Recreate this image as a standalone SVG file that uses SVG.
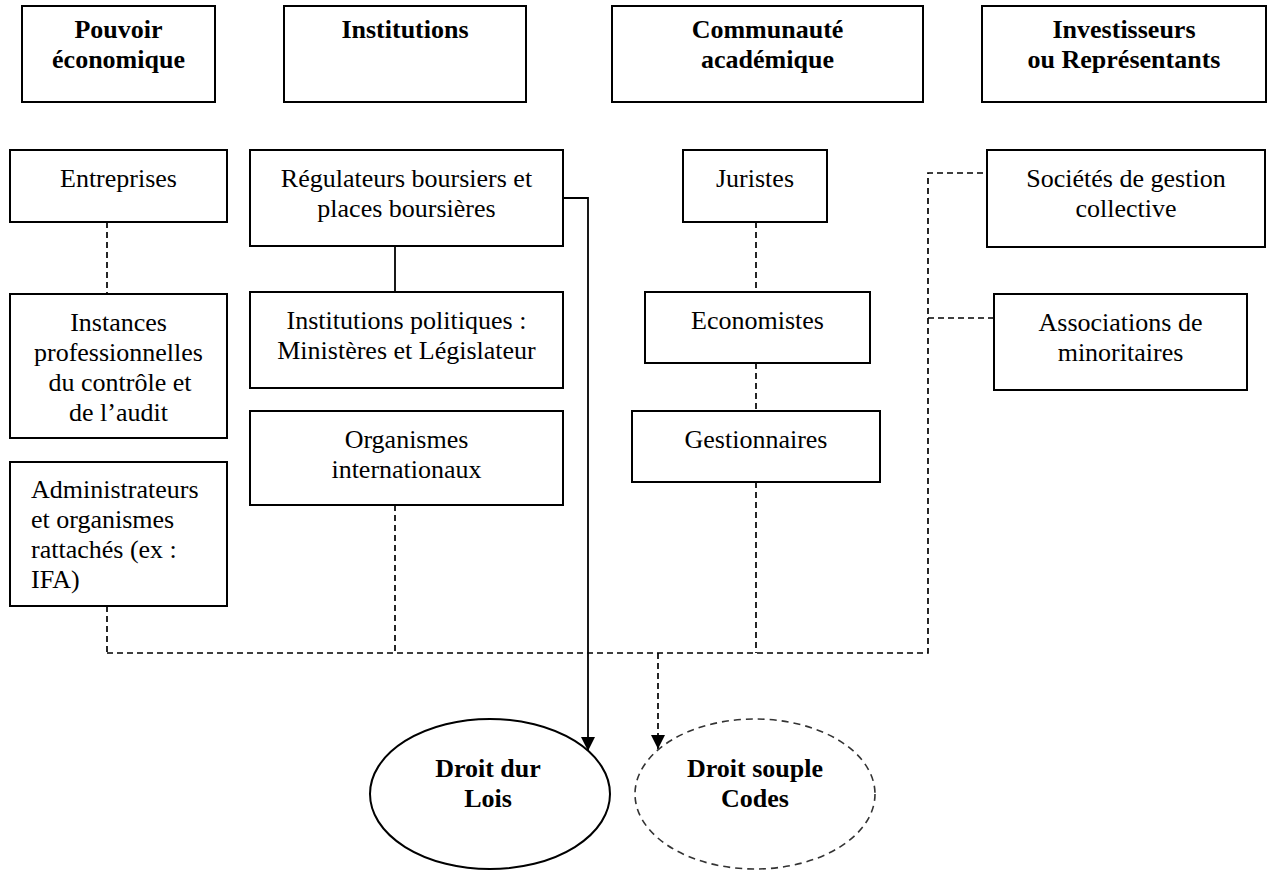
<svg xmlns="http://www.w3.org/2000/svg" width="1277" height="870" viewBox="0 0 1277 870">
<defs>
<style>
.box{fill:#fff;stroke:#000;stroke-width:2}
.t{font-family:"Liberation Serif","Times New Roman",serif;font-size:26px;fill:#000;text-anchor:middle}
.b{font-weight:bold}
.l{text-anchor:start}
.dash{fill:none;stroke:#000;stroke-width:1.7;stroke-dasharray:6,4}
.solid{fill:none;stroke:#000;stroke-width:1.8}
</style>
<marker id="ah" markerWidth="14" markerHeight="15" refX="14" refY="7" orient="auto" markerUnits="userSpaceOnUse" viewBox="0 0 14 14">
<path d="M0,0 L14,7 L0,14 Z" fill="#000"/>
</marker>
</defs>
<rect width="1277" height="870" fill="#fff"/>

<g id="connectors">
<line class="dash" x1="107" y1="222" x2="107" y2="294"/>
<line class="solid" x1="395" y1="246" x2="395" y2="292"/>
<line class="dash" x1="756" y1="222" x2="756" y2="292"/>
<line class="dash" x1="756" y1="363" x2="756" y2="411"/>
<line class="dash" x1="756" y1="482" x2="756" y2="653"/>
<line class="dash" x1="395" y1="505" x2="395" y2="653"/>
<line class="dash" x1="107" y1="606" x2="107" y2="653"/>
<polyline class="dash" points="107,653 928,653 928,173 987,173"/>
<line class="dash" x1="928" y1="318" x2="994" y2="318"/>
<line class="dash" x1="658" y1="653" x2="658" y2="749" marker-end="url(#ah)"/>
<polyline class="solid" points="563,198 588,198 588,751" marker-end="url(#ah)"/>
</g>

<g id="pouvoir">
<rect class="box" x="22" y="6" width="193" height="96"/>
<text class="t b" x="118.5" y="38">Pouvoir</text>
<text class="t b" x="118.5" y="68">économique</text>
</g>
<g id="institutions">
<rect class="box" x="284" y="6" width="242" height="96"/>
<text class="t b" x="405" y="38">Institutions</text>
</g>
<g id="communaute">
<rect class="box" x="612" y="6" width="311" height="96"/>
<text class="t b" x="767.5" y="38">Communauté</text>
<text class="t b" x="767.5" y="68">académique</text>
</g>
<g id="investisseurs">
<rect class="box" x="982" y="6" width="284" height="96"/>
<text class="t b" x="1124" y="38">Investisseurs</text>
<text class="t b" x="1124" y="68">ou Représentants</text>
</g>

<g id="entreprises">
<rect class="box" x="10" y="150" width="217" height="72"/>
<text class="t" x="118.5" y="187">Entreprises</text>
</g>
<g id="regulateurs">
<rect class="box" x="250" y="150" width="313" height="96"/>
<text class="t" x="406.5" y="187">Régulateurs boursiers et</text>
<text class="t" x="406.5" y="217">places boursières</text>
</g>
<g id="juristes">
<rect class="box" x="683" y="150" width="144" height="72"/>
<text class="t" x="755" y="187">Juristes</text>
</g>
<g id="societes">
<rect class="box" x="987" y="150" width="278" height="97"/>
<text class="t" x="1126" y="187">Sociétés de gestion</text>
<text class="t" x="1126" y="217">collective</text>
</g>

<g id="instances">
<rect class="box" x="10" y="294" width="217" height="144"/>
<text class="t" x="118.5" y="331">Instances</text>
<text class="t" x="118.5" y="361">professionnelles</text>
<text class="t" x="120" y="391">du contrôle et</text>
<text class="t" x="118.5" y="421">de l’audit</text>
</g>
<g id="politiques">
<rect class="box" x="250" y="292" width="313" height="96"/>
<text class="t" x="406.5" y="329">Institutions politiques :</text>
<text class="t" x="406.5" y="359">Ministères et Législateur</text>
</g>
<g id="economistes">
<rect class="box" x="645" y="292" width="225" height="71"/>
<text class="t" x="757.5" y="329">Economistes</text>
</g>
<g id="associations">
<rect class="box" x="994" y="294" width="253" height="96"/>
<text class="t" x="1120.5" y="331">Associations de</text>
<text class="t" x="1120.5" y="361">minoritaires</text>
</g>

<g id="organismes">
<rect class="box" x="250" y="411" width="313" height="94"/>
<text class="t" x="406.5" y="448">Organismes</text>
<text class="t" x="406.5" y="478">internationaux</text>
</g>
<g id="gestionnaires">
<rect class="box" x="632" y="411" width="248" height="71"/>
<text class="t" x="756" y="448">Gestionnaires</text>
</g>
<g id="administrateurs">
<rect class="box" x="10" y="462" width="217" height="144"/>
<text class="t l" x="31" y="498">Administrateurs</text>
<text class="t l" x="31" y="528">et organismes</text>
<text class="t l" x="31" y="558">rattachés (ex :</text>
<text class="t l" x="31" y="588">IFA)</text>
</g>

<g id="droit-dur">
<ellipse cx="490" cy="794" rx="120" ry="75" fill="none" stroke="#000" stroke-width="2"/>
<text class="t b" x="488" y="777">Droit dur</text>
<text class="t b" x="488" y="807">Lois</text>
</g>
<g id="droit-souple">
<ellipse cx="755" cy="794" rx="120" ry="75" fill="none" stroke="#333" stroke-width="1.6" stroke-dasharray="7,5"/>
<text class="t b" x="755" y="777">Droit souple</text>
<text class="t b" x="755" y="807">Codes</text>
</g>
</svg>
